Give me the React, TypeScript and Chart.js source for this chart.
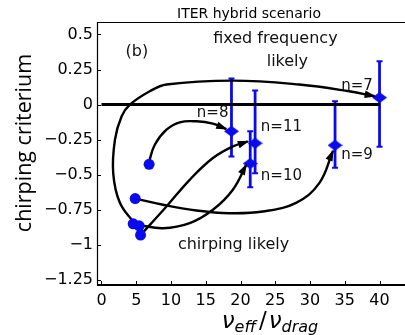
import React, { useEffect, useRef } from 'react';
import { Chart, registerables } from 'chart.js';

Chart.register(...registerables);

// ---- Data ----
const xTicks = [0, 5, 10, 15, 20, 25, 30, 35, 40];
const xTickLabels = ['0', '5', '10', '15', '20', '25', '30', '35', '40'];
const yTicks = [0.5, 0.25, 0, -0.25, -0.5, -0.75, -1, -1.25];
const yTickLabels = ['0.5', '0.25', '0', '\u22120.25', '\u22120.5', '\u22120.75', '\u22121', '\u22121.25'];

// Toroidal modes: diamond markers with error bars
const modeLabels = ['n=7', 'n=8', 'n=9', 'n=10', 'n=11'];
const modeX = [40, 18.7, 33.6, 21.4, 22.1];
const modeY = [0.05, -0.19, -0.29, -0.42, -0.275];
const modeErrLow = [-0.3, -0.37, -0.45, -0.59, -0.49];
const modeErrHigh = [0.31, 0.186, 0.024, -0.19, 0.1];

// Starting points (blue circles)
const startX = [6.85, 4.85, 4.56, 5.42, 5.62];
const startY = [-0.426, -0.67, -0.85, -0.864, -0.93];

// Arrow paths (waypoints)
const pathN8X = [6.85, 7.67, 9.35, 11.25, 13.65, 16.03, 17.95];
const pathN8Y = [-0.405, -0.286, -0.179, -0.126, -0.119, -0.136, -0.174];
const pathN7X = [4.8, 2.65, 1.69, 1.94, 2.9, 4.09, 6.95, 9.35, 18.9, 28.46, 35.63, 39.3];
const pathN7Y = [-0.85, -0.7, -0.49, -0.25, -0.083, 0, 0.095, 0.143, 0.171, 0.143, 0.095, 0.06];
const pathN9X = [4.85, 8.86, 13.65, 18.42, 23.2, 27.99, 31.33, 33.3];
const pathN9Y = [-0.67, -0.714, -0.755, -0.774, -0.762, -0.7, -0.56, -0.33];
const pathN10X = [5.28, 8.86, 12.69, 16.03, 18.9, 20.82];
const pathN10Y = [-0.857, -0.881, -0.845, -0.75, -0.607, -0.43];
const pathN11X = [5.62, 9.35, 12.69, 16.03, 18.9, 21.05];
const pathN11Y = [-0.93, -0.726, -0.536, -0.381, -0.298, -0.262];

// Zero reference line
const zeroLineX = [0, 40];
const zeroLineY = [0, 0];

// Text annotations (data coordinates)
const noteTexts = ['(b)', 'fixed frequency', 'likely', 'chirping likely'];
const noteX = [5.09, 25.02, 26.74, 19.0];
const noteY = [0.379, 0.471, 0.307, -1.0];
const modeLabelX = [36.77, 15.99, 36.77, 25.88, 25.88];
const modeLabelY = [0.129, -0.057, -0.357, -0.507, -0.157];

const titleText = 'ITER hybrid scenario';
const yAxisTitle = 'chirping criterium';

const BLUE = '#0a0aee';

const toPts = (xs: number[], ys: number[]) => xs.map((x, i) => ({ x, y: ys[i] }));

function makeDiamond(w: number, h: number, color: string) {
  const c = document.createElement('canvas');
  c.width = w;
  c.height = h;
  const g = c.getContext('2d')!;
  g.fillStyle = color;
  g.beginPath();
  g.moveTo(w / 2, 0);
  g.lineTo(w, h / 2);
  g.lineTo(w / 2, h);
  g.lineTo(0, h / 2);
  g.closePath();
  g.fill();
  return c;
}

const decorPlugin = {
  id: 'decor',
  beforeDatasetsDraw(chart: any) {
    const { ctx, scales } = chart;
    const xs = scales.x;
    const ys = scales.y;
    ctx.save();
    ctx.strokeStyle = BLUE;
    modeX.forEach((mx, i) => {
      const px = xs.getPixelForValue(mx);
      const p1 = ys.getPixelForValue(modeErrHigh[i]);
      const p2 = ys.getPixelForValue(modeErrLow[i]);
      ctx.lineWidth = 2.8;
      ctx.beginPath();
      ctx.moveTo(px, p1);
      ctx.lineTo(px, p2);
      ctx.stroke();
      ctx.lineWidth = 2;
      ctx.beginPath();
      ctx.moveTo(px - 3, p1);
      ctx.lineTo(px + 3, p1);
      ctx.moveTo(px - 3, p2);
      ctx.lineTo(px + 3, p2);
      ctx.stroke();
    });
    ctx.restore();
  },
  afterDatasetsDraw(chart: any) {
    const { ctx } = chart;
    ctx.save();
    ctx.fillStyle = '#000';
    chart.data.datasets.forEach((ds: any, di: number) => {
      if (!ds.isArrow) return;
      const meta = chart.getDatasetMeta(di);
      const pts = meta.data;
      const last = pts[pts.length - 1];
      let dx = last.x - (last.cp1x ?? pts[pts.length - 2].x);
      let dy = last.y - (last.cp1y ?? pts[pts.length - 2].y);
      const len = Math.hypot(dx, dy) || 1;
      dx /= len;
      dy /= len;
      const L = 10;
      const W = 3.8;
      const bx = last.x - dx * L;
      const by = last.y - dy * L;
      ctx.beginPath();
      ctx.moveTo(last.x + dx * 1.5, last.y + dy * 1.5);
      ctx.lineTo(bx - dy * W, by + dx * W);
      ctx.lineTo(bx + dy * W, by - dx * W);
      ctx.closePath();
      ctx.fill();
    });
    ctx.restore();
  },
  afterDraw(chart: any) {
    const { ctx, scales, chartArea } = chart;
    const xs = scales.x;
    const ys = scales.y;
    const fullRight = chart.width;
    ctx.save();
    // axes frame
    ctx.strokeStyle = '#000';
    ctx.lineWidth = 1.2;
    ctx.beginPath();
    ctx.moveTo(chartArea.left + 0.5, chartArea.top);
    ctx.lineTo(chartArea.left + 0.5, chartArea.bottom);
    ctx.moveTo(chartArea.left, chartArea.top + 0.5);
    ctx.lineTo(fullRight, chartArea.top + 0.5);
    ctx.stroke();
    ctx.lineWidth = 2;
    ctx.beginPath();
    ctx.moveTo(chartArea.left, chartArea.bottom);
    ctx.lineTo(fullRight, chartArea.bottom);
    ctx.stroke();
    // inward tick marks
    ctx.lineWidth = 1;
    ctx.beginPath();
    xTicks.forEach((v) => {
      const px = Math.round(xs.getPixelForValue(v)) + 0.5;
      ctx.moveTo(px, chartArea.bottom);
      ctx.lineTo(px, chartArea.bottom - 4);
    });
    yTicks.forEach((v) => {
      const py = Math.round(ys.getPixelForValue(v)) + 0.5;
      ctx.moveTo(chartArea.left, py);
      ctx.lineTo(chartArea.left + 4, py);
    });
    ctx.stroke();

    // annotations
    ctx.fillStyle = '#111';
    ctx.textAlign = 'center';
    ctx.textBaseline = 'middle';
    ctx.font = '16px "DejaVu Sans"';
    noteTexts.forEach((t, i) => {
      ctx.fillText(t, xs.getPixelForValue(noteX[i]), ys.getPixelForValue(noteY[i]));
    });
    ctx.font = '15px "DejaVu Sans"';
    modeLabels.forEach((t, i) => {
      ctx.fillText(t, xs.getPixelForValue(modeLabelX[i]), ys.getPixelForValue(modeLabelY[i]));
    });

    // title
    ctx.font = '14px "DejaVu Sans"';
    ctx.fillStyle = '#000';
    ctx.fillText(titleText, 249, chartArea.top - 8);

    // y axis title
    ctx.save();
    ctx.translate(25, 143);
    ctx.rotate(-Math.PI / 2);
    ctx.font = '21.5px "Open Sans"';
    ctx.fillText(yAxisTitle, 0, 0);
    ctx.restore();

    // x axis title: nu_eff / nu_drag
    const bigFont = 'italic 23px "DejaVu Sans"';
    const subFont = 'italic 16px "DejaVu Sans"';
    const slashFont = '23px "DejaVu Sans"';
    const parts = [
      { t: '\u03bd', f: bigFont, dy: 0, gap: 0 },
      { t: 'eff', f: subFont, dy: 4, gap: 0 },
      { t: '/', f: slashFont, dy: 0, gap: 3 },
      { t: '\u03bd', f: bigFont, dy: 0, gap: 2 },
      { t: 'drag', f: subFont, dy: 4, gap: 0 },
    ];
    let total = 0;
    const widths = parts.map((p) => {
      ctx.font = p.f;
      const w = ctx.measureText(p.t).width;
      total += w + p.gap;
      return w;
    });
    let cx = 270 - total / 2;
    ctx.textAlign = 'left';
    ctx.textBaseline = 'alphabetic';
    parts.forEach((p, i) => {
      cx += p.gap;
      ctx.font = p.f;
      ctx.fillText(p.t, cx, 328 + p.dy);
      cx += widths[i];
    });
    ctx.restore();
  },
};

export default function App() {
  const ref = useRef<HTMLCanvasElement | null>(null);

  useEffect(() => {
    document.body.style.margin = '0';
    const canvas = ref.current!;
    const diamond = makeDiamond(15, 11, BLUE);

    const arrowDs = (xs: number[], ys: number[]) => ({
      type: 'line' as const,
      data: toPts(xs, ys),
      borderColor: '#000',
      borderWidth: 2.4,
      pointRadius: 0,
      tension: 0.4,
      showLine: true,
      fill: false,
      isArrow: true,
    });

    const chart = new Chart(canvas, {
      type: 'scatter',
      data: {
        datasets: [
          {
            data: toPts(modeX, modeY),
            pointStyle: diamond as any,
            pointRadius: 6,
            backgroundColor: BLUE,
            borderWidth: 0,
          } as any,
          {
            data: toPts(startX, startY),
            pointStyle: 'circle',
            pointRadius: 5.5,
            backgroundColor: BLUE,
            borderColor: BLUE,
            borderWidth: 0,
          },
          arrowDs(pathN8X, pathN8Y),
          arrowDs(pathN7X, pathN7Y),
          arrowDs(pathN9X, pathN9Y),
          arrowDs(pathN10X, pathN10Y),
          arrowDs(pathN11X, pathN11Y),
          {
            type: 'line',
            data: toPts(zeroLineX, zeroLineY),
            borderColor: '#000',
            borderWidth: 3,
            pointRadius: 0,
            tension: 0,
            showLine: true,
            fill: false,
          },
        ] as any,
      },
      options: {
        animation: false,
        responsive: false,
        maintainAspectRatio: false,
        events: [],
        layout: { padding: { top: 22, right: 0, left: 0, bottom: 0 } },
        plugins: {
          legend: { display: false },
          tooltip: { enabled: false },
          title: { display: false },
        },
        scales: {
          x: {
            type: 'linear',
            min: -0.645,
            max: 42.8,
            grid: { display: false, drawTicks: false },
            border: { display: false },
            afterFit: (s: any) => {
              s.height = 50;
            },
            afterBuildTicks: (s: any) => {
              s.ticks = xTicks.map((v) => ({ value: v }));
            },
            ticks: {
              autoSkip: false,
              maxRotation: 0,
              padding: 6,
              color: '#000',
              font: { family: 'DejaVu Sans', size: 16 },
              callback: (v: any) => {
                const i = xTicks.indexOf(Number(v));
                return i >= 0 ? xTickLabels[i] : '';
              },
            },
          },
          y: {
            type: 'linear',
            min: -1.286,
            max: 0.589,
            grid: { display: false, drawTicks: false },
            border: { display: false },
            afterFit: (s: any) => {
              s.width = 97;
            },
            afterBuildTicks: (s: any) => {
              s.ticks = yTicks.map((v) => ({ value: v }));
            },
            ticks: {
              autoSkip: false,
              padding: 4,
              color: '#000',
              font: { family: 'DejaVu Sans', size: 16 },
              callback: (v: any) => {
                const i = yTicks.findIndex((t) => Math.abs(t - Number(v)) < 1e-9);
                return i >= 0 ? yTickLabels[i] : '';
              },
            },
          },
        },
      } as any,
      plugins: [decorPlugin],
    });

    return () => {
      chart.destroy();
    };
  }, []);

  return (
    <div style={{ width: 405, height: 335, background: '#fff' }}>
      <canvas ref={ref} width={405} height={335} style={{ display: 'block' }} />
    </div>
  );
}
